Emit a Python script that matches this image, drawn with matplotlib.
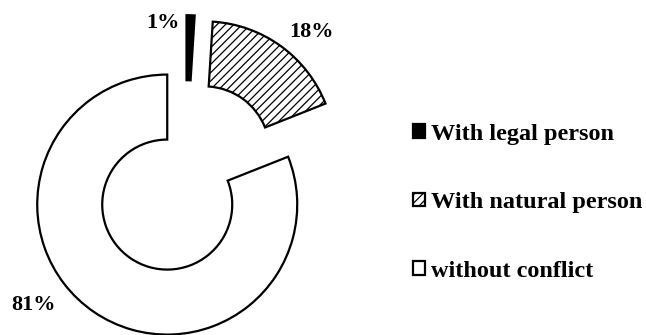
import matplotlib.pyplot as plt

# conflict shares (%)
categories = ['With legal person', 'With natural person', 'without conflict']
shares = [1, 18, 81]
pct_labels = ['1%', '18%', '81%']

colors = ['black', 'white', 'white']
hatches = [None, '////', None]
label_xy = [(-0.17, 1.19), (0.97, 1.12), (-1.17, -0.98)]   # label spots, in pie radii

plt.rcParams['font.family'] = ['Liberation Serif', 'DejaVu Serif']
plt.rcParams['hatch.linewidth'] = 0.9

fig = plt.figure(figsize=(6.46, 3.35), dpi=100)
ax = fig.add_axes([0, 0, 1, 1])

wedges, _ = ax.pie(shares, startangle=90, counterclock=False, radius=1,
                   explode=[0.25] * len(shares), colors=colors,
                   wedgeprops=dict(width=0.5, edgecolor='black', linewidth=1.6))
for w, h in zip(wedges, hatches):
    if h:
        w.set_hatch(h)

for (x, y), s in zip(label_xy, pct_labels):
    ax.text(x, y, s, ha='center', va='center', fontsize=16, fontweight='bold')

# 1 data unit = 130 px, pie centre at (185.5, 177.7) px from top-left
ax.set_xlim(-185.5 / 130, (646 - 185.5) / 130)
ax.set_ylim(-(335 - 177.7) / 130, 177.7 / 130)
ax.set_aspect('equal')
ax.axis('off')

fig.legend(wedges, categories, loc='center left', bbox_to_anchor=(0.605, 0.395),
           frameon=False, prop=dict(size=17.5, weight='bold'),
           handlelength=0.5, handleheight=0.5, handletextpad=0.25,
           labelspacing=1.95)

fig.savefig('out.png', dpi=100)
